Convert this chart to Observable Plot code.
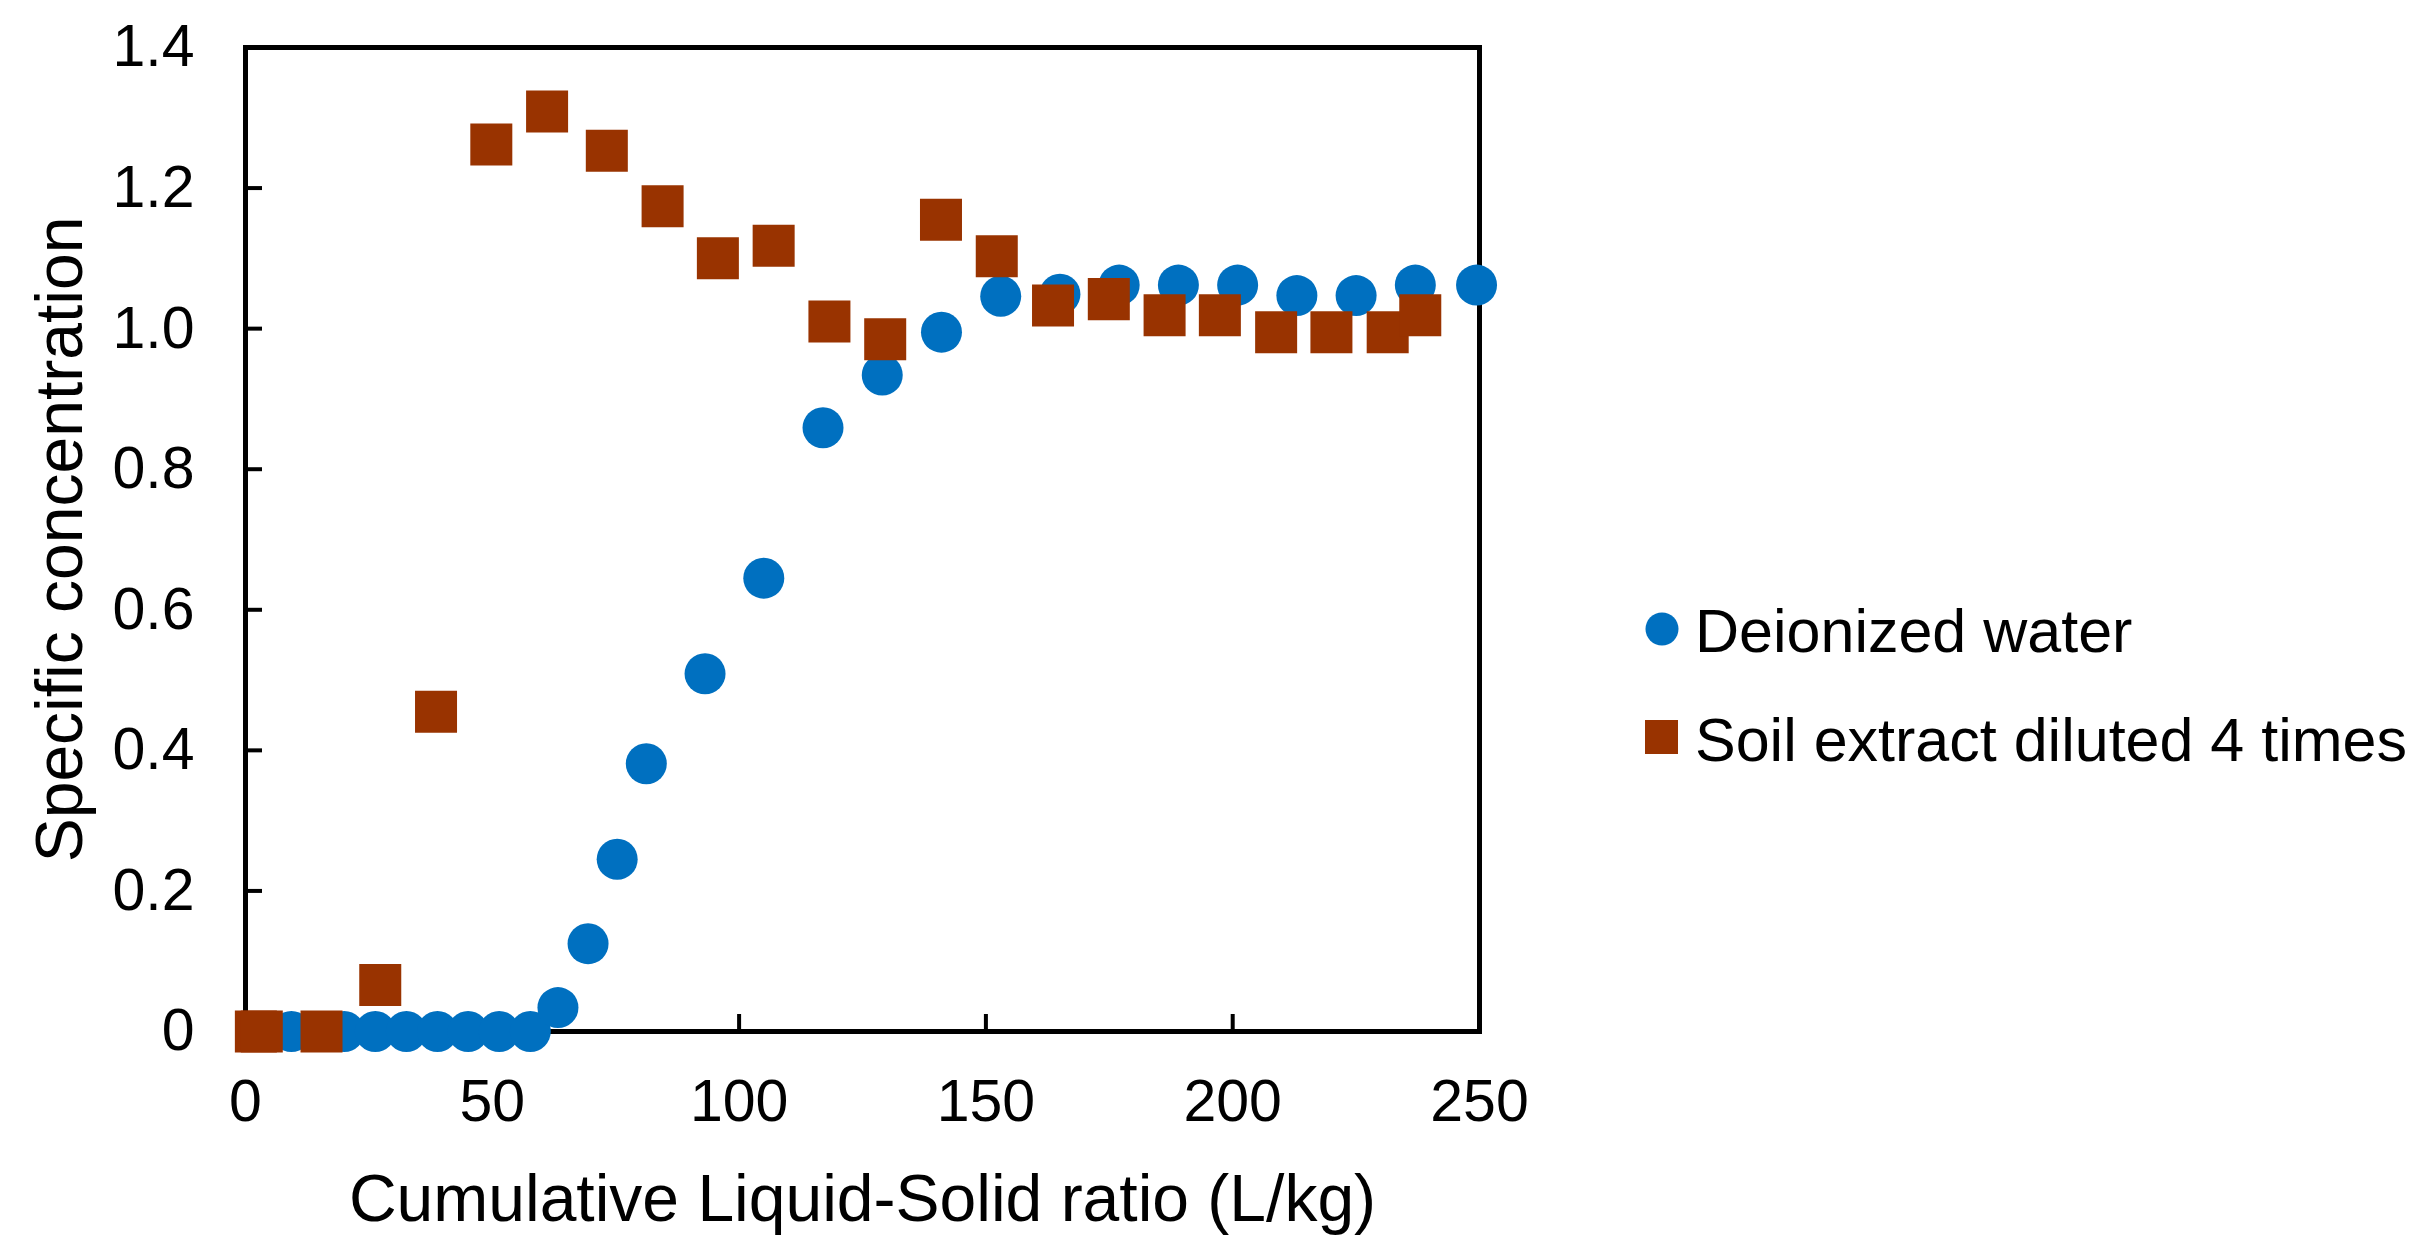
<!DOCTYPE html>
<html>
<head>
<meta charset="utf-8">
<script src="https://cdn.jsdelivr.net/npm/d3@7"></script>
<script src="https://cdn.jsdelivr.net/npm/@observablehq/plot@0.6"></script>
<style>
html, body { margin: 0; padding: 0; background: #fff; }
#wrap { position: relative; width: 2427px; height: 1254px; overflow: hidden; }
#legend { position: absolute; left: 0; top: 0; pointer-events: none; }
</style>
</head>
<body>
<div id="wrap"></div>
<script>
// ---- data ----
const dwX = [9.3, 20.0, 26.3, 32.6, 38.9, 45.1, 51.4, 57.7, 63.3, 69.4, 75.3, 81.2, 93.1, 105.0, 117.0, 129.0, 141.0, 153.0, 165.0, 177.0, 189.0, 201.0, 213.0, 225.0, 237.0, 249.4];
const dwY = [0, 0, 0, 0, 0, 0, 0, 0, 0.034, 0.125, 0.245, 0.381, 0.509, 0.645, 0.859, 0.934, 0.995, 1.046, 1.049, 1.062, 1.062, 1.062, 1.047, 1.047, 1.062, 1.062];

const seX = [2.1, 3.3, 15.4, 27.3, 38.6, 49.8, 61.1, 73.2, 84.5, 95.7, 107.0, 118.3, 129.6, 140.9, 152.2, 163.6, 174.9, 186.2, 197.4, 208.8, 220.0, 231.4, 238.0];
const seY = [0, 0, 0, 0.066, 0.455, 1.262, 1.309, 1.253, 1.174, 1.100, 1.118, 1.010, 0.985, 1.155, 1.103, 1.033, 1.042, 1.019, 1.019, 0.995, 0.995, 0.995, 1.019];

const xTicks = [0, 50, 100, 150, 200, 250];
const yTicks = [0, 0.2, 0.4, 0.6, 0.8, 1.0, 1.2, 1.4];
const seriesNames = ["Deionized water", "Soil extract diluted 4 times"];
const seriesColors = ["#0070C0", "#993300"];
const xTitle = "Cumulative Liquid-Solid ratio (L/kg)";
const yTitle = "Specific concentration";

// ---- tables ----
const dw = dwX.map((x, i) => ({x, y: dwY[i]}));
const se = seX.map((x, i) => ({x, y: seY[i]}));

const W = 2427, H = 1254;
const FONT = "Arial, 'Liberation Sans', sans-serif";

const chart = Plot.plot({
  width: W,
  height: H,
  marginLeft: 245,
  marginRight: 948,
  marginTop: 47,
  marginBottom: 223,
  style: {fontFamily: FONT, background: "white", color: "black", overflow: "visible"},
  x: {domain: [0, 250]},
  y: {domain: [0, 1.4]},
  marks: [
    // tick labels
    Plot.axisX(xTicks, {tickSize: 0, tickPadding: 48, fontSize: 59, tickFormat: d => String(d), label: null}),
    Plot.axisY(yTicks, {tickSize: 0, tickPadding: 51, fontSize: 59, tickFormat: d => d === 0 ? "0" : d.toFixed(1), label: null}),
    // inward tick marks
    Plot.axisX(xTicks.slice(1, -1), {tickSize: 17, dy: -17, strokeWidth: 4, tickFormat: () => "", label: null}),
    Plot.axisY(yTicks.slice(1, -1), {tickSize: 17, dx: 17, strokeWidth: 4, tickFormat: () => "", label: null}),
    // box
    Plot.frame({stroke: "black", strokeWidth: 5}),
    // series
    Plot.dot(dw, {x: "x", y: "y", r: 20.5, fill: seriesColors[0], symbol: "circle"}),
    Plot.dot(se, {x: "x", y: "y", r: 23.7, fill: seriesColors[1], symbol: "square"}),
    // axis titles
    Plot.text([xTitle], {text: d => d, frameAnchor: "bottom", dy: 168, fontSize: 66, lineAnchor: "middle", textAnchor: "middle"}),
    Plot.text([yTitle], {text: d => d, frameAnchor: "left", dx: -185, rotate: -90, fontSize: 66, lineAnchor: "middle", textAnchor: "middle"})
  ]
});

const wrap = document.getElementById("wrap");
wrap.appendChild(chart);

// ---- legend (right side) ----
const ns = "http://www.w3.org/2000/svg";
const lg = document.createElementNS(ns, "svg");
lg.setAttribute("id", "legend");
lg.setAttribute("width", W);
lg.setAttribute("height", H);
const legendRows = [
  {name: seriesNames[0], color: seriesColors[0], shape: "circle", cy: 629, base: 652},
  {name: seriesNames[1], color: seriesColors[1], shape: "square", cy: 737, base: 761}
];
legendRows.forEach(r => {
  let m;
  if (r.shape === "circle") {
    m = document.createElementNS(ns, "circle");
    m.setAttribute("cx", 1662); m.setAttribute("cy", r.cy); m.setAttribute("r", 16.5);
  } else {
    m = document.createElementNS(ns, "rect");
    m.setAttribute("x", 1645); m.setAttribute("y", r.cy - 17);
    m.setAttribute("width", 33); m.setAttribute("height", 34);
  }
  m.setAttribute("fill", r.color);
  lg.appendChild(m);
  const t = document.createElementNS(ns, "text");
  t.setAttribute("x", 1695); t.setAttribute("y", r.base);
  t.setAttribute("font-family", FONT); t.setAttribute("font-size", 61);
  t.setAttribute("fill", "black");
  t.textContent = r.name;
  lg.appendChild(t);
});
wrap.appendChild(lg);
</script>
</body>
</html>
